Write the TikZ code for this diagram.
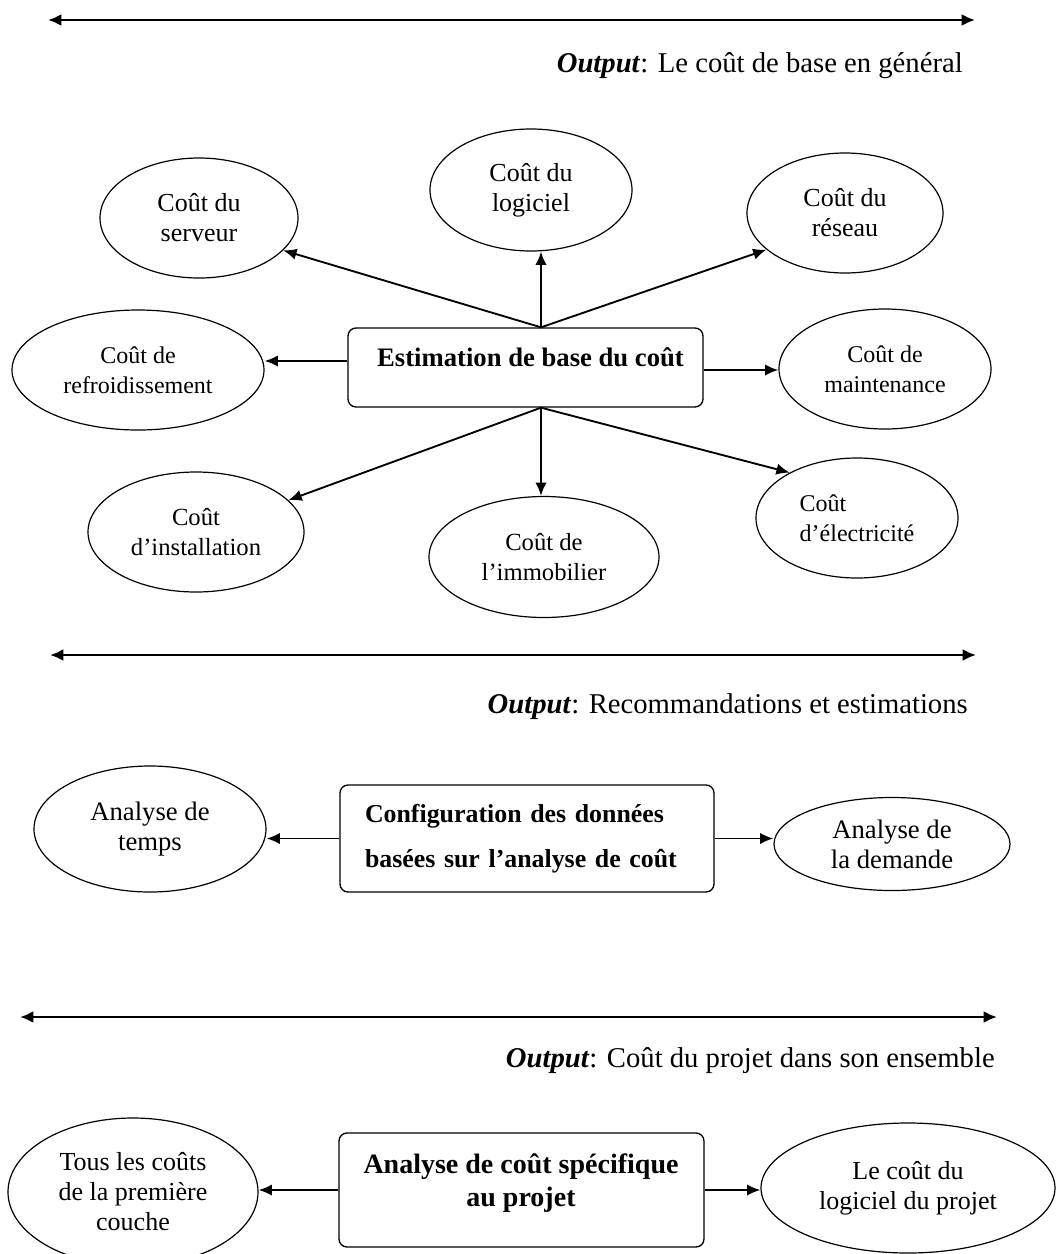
\documentclass[tikz,border=0pt]{standalone}
\usepackage{fontspec}
\setmainfont{Liberation Serif}
\usetikzlibrary{shapes.geometric,arrows.meta,calc}
\begin{document}
\begin{tikzpicture}[x=0.75pt,y=-0.75pt,
  ell/.style 2 args={ellipse,draw,line width=0.9pt,inner sep=0pt,minimum width=#1,minimum height=#2,align=center},
  fA/.style={font=\fontsize{18}{22.5}\selectfont},
  fAA/.style={font=\fontsize{18.5}{22.5}\selectfont},
  fAL/.style={font=\fontsize{19.5}{22.5}\selectfont},
  fB/.style={font=\fontsize{20}{22.5}\selectfont},
  fC/.style={font=\fontsize{19.5}{22.5}\selectfont},
  outp/.style={font=\fontsize{21.5}{26}\selectfont,inner sep=0pt},
  box/.style={draw,rounded corners=6pt,line width=1pt,inner sep=0pt},
  arr/.style={-{Latex[length=10pt,width=8.5pt]},line width=1.4pt},
  sepline/.style={{Latex[length=10pt,width=9pt]}-{Latex[length=10pt,width=9pt]},line width=1.9pt}
]
\fill[white] (0,0) rectangle (1056,1254);
\useasboundingbox (0,0) rectangle (1056,1254);

% ---------- section 1 ----------
\coordinate (s1a) at (48,20);
\coordinate (s1b) at (975,20);
\draw[sepline] (s1a) -- (s1b);
\node[outp,anchor=base east] (o1) at (963,72) {\textbf{\textit{Output}}: Le coût de base en général};

\node[ell={148.5pt}{90pt},fAL] (serv) at (199,218) {Coût du\\serveur};
\node[ell={151.5pt}{91.5pt},fAL] (logi) at (531,190) {Coût du\\logiciel};
\node[ell={147pt}{90pt},fAL] (res) at (845,213) {Coût du\\réseau};
\node[ell={189pt}{90pt},fA] (refr) at (138,370) {Coût de\\refroidissement};
\node[ell={159pt}{90pt},fA] (maint) at (885,369) {Coût de\\maintenance};
\node[ell={162pt}{90pt},fAA] (inst) at (196,532) {Coût\\d’installation};
\node[ell={172.5pt}{90.75pt},fAA] (immo) at (544,557) {Coût de\\l’immobilier};
\node[ell={151.5pt}{90pt},fA,align=left] (elec) at (857,518) {Coût\\d’électricité};

\node[box,minimum width=266.25pt,minimum height=59.25pt] (est) at (525.5,367.5) {};
\node[font=\bfseries\fontsize{20}{24}\selectfont,inner sep=0pt] (estTxt) at (530.5,357) {Estimation de base du coût};

\coordinate (c541) at (541,0);
\coordinate (estT) at (est.north -| c541);
\coordinate (estB) at (est.south -| c541);
\coordinate (refY) at (0,361);
\coordinate (mY) at (0,370);

\draw[arr] (estT) -- (serv.-21);
\draw[arr] (estT) -- (estT |- logi.south);
\draw[arr] (estT) -- (res.205);
\draw[arr] (est.west |- refY) -- (refr.east |- refY);
\draw[arr] (est.east |- mY) -- (maint.west |- mY);
\draw[arr] (estB) -- (inst.19);
\draw[arr] (estB) -- (estB |- immo.north);
\draw[arr] (estB) -- (elec.146);

% ---------- section 2 ----------
\coordinate (s2a) at (50,655);
\coordinate (s2b) at (976,655);
\draw[sepline] (s2a) -- (s2b);
\node[outp,anchor=base east] (o2) at (968,713) {\textbf{\textit{Output}}: Recommandations et estimations};

\node[ell={174pt}{94.5pt},fB] (temps) at (150,829) {Analyse de\\temps};
\node[box,minimum width=280.5pt,minimum height=80.25pt,text width=243pt,inner xsep=18.75pt,align=left,
      font=\bfseries\fontsize{19.4}{33.75}\selectfont] (cfg) at (527,838.5)
      {Configuration des données\\basées sur l’analyse de coût};
\node[ell={177pt}{69.75pt},fB] (dem) at (892,844) {Analyse de\\la demande};

\draw[arr] (cfg.west) -- (temps.east |- cfg.west);
\draw[arr] (cfg.east) -- (dem.west |- cfg.east);

% ---------- section 3 ----------
\coordinate (s3a) at (20,1017);
\coordinate (s3b) at (997,1017);
\draw[sepline] (s3a) -- (s3b);
\node[outp,anchor=base east] (o3) at (995,1067) {\textbf{\textit{Output}}: Coût du projet dans son ensemble};

\node[ell={187.5pt}{111pt},fC] (tous) at (133,1192) {Tous les coûts\\de la première\\couche};
\node[box,minimum width=273.75pt,minimum height=85.5pt] (spec) at (521.5,1190) {};
\node[font=\bfseries\fontsize{21}{24.75}\selectfont,align=center,inner sep=0pt] (specTxt) at (521,1183.5) {Analyse de coût spécifique\\au projet};
\node[ell={220.5pt}{97.5pt},fC] (lproj) at (908,1188) {Le coût du\\logiciel du projet};

\draw[arr] (spec.west) -- (tous.east |- spec.west);
\draw[arr] (spec.east) -- (lproj.west |- spec.east);
\end{tikzpicture}
\end{document}
